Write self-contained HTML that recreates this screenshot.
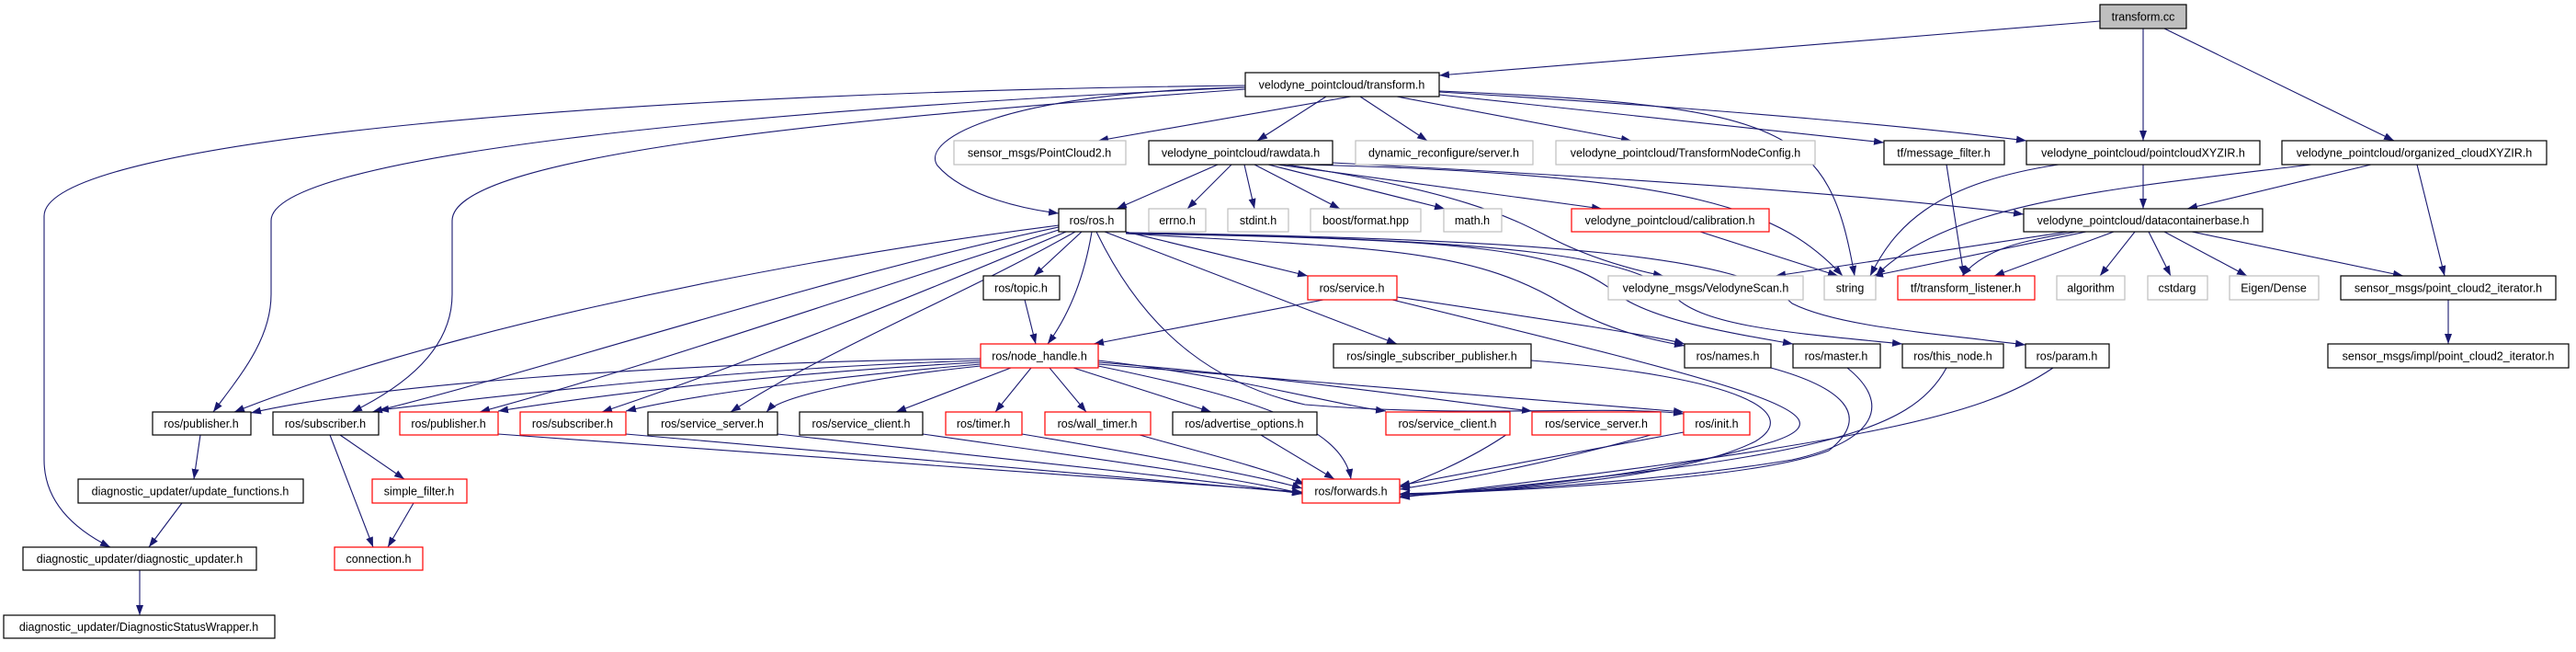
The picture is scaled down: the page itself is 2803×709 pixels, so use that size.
<!DOCTYPE html>
<html><head><meta charset="utf-8"><style>html,body{margin:0;padding:0;background:#fff}svg{display:block}</style></head><body>
<svg width="2803" height="709" viewBox="0 0 2803 709" xmlns="http://www.w3.org/2000/svg" font-family="Liberation Sans, sans-serif" font-size="12.5">
<defs><marker id="a" markerUnits="userSpaceOnUse" markerWidth="11" markerHeight="8" refX="11" refY="4" orient="auto"><path d="M0,0 L11,4 L0,8 z" fill="#191970"/></marker></defs>
<g fill="none" stroke="#191970" stroke-width="1.1" marker-end="url(#a)">
<path d="M2285,23 L1566,82"/><path d="M2332,31 L2332,153"/><path d="M2355,31 L2605,153"/>
<path d="M1470,105 L1195,153"/><path d="M1443,105 L1368,153"/><path d="M1480,105 L1553,153"/><path d="M1520,105 L1775,153"/>
<path d="M1566,103 L2050,155"/><path d="M1566,100 C1900,120 2100,140 2205,153"/>
<path d="M1566,99 C1950,115 1990,140 2018,300"/>
<path d="M1355,95 C1100,100 1000,150 1020,180 C1050,215 1120,228 1152,232"/>
<path d="M1355,93 C700,100 48,150 48,235 L48,500 C48,545 80,575 120,595"/>
<path d="M1355,95 C800,120 295,170 295,240 L295,320 C295,370 260,410 232,448"/>
<path d="M1355,97 C900,130 492,170 492,240 L492,320 C492,380 440,420 383,448"/>
<path d="M1325,179 L1215,227"/><path d="M1340,179 L1292,227"/><path d="M1354,179 L1365,227"/><path d="M1365,179 L1458,227"/><path d="M1380,179 L1572,227"/><path d="M1390,179 L1743,227"/>
<path d="M1400,179 C1600,210 1650,240 1690,260 C1720,275 1760,290 1810,300"/>
<path d="M1420,179 C1850,190 1940,230 2005,300"/>
<path d="M1450,177 C1900,200 2100,220 2202,233"/>
<path d="M2332,179 L2332,227"/><path d="M2240,179 C2100,200 2060,250 2035,300"/>
<path d="M2580,179 L2380,227"/><path d="M2515,179 C2300,205 2120,220 2041,300"/><path d="M2630,179 L2660,300"/>
<path d="M2250,252 L1932,300"/><path d="M2270,252 L2038,300"/><path d="M2300,252 L2170,300"/><path d="M2260,252 C2200,262 2160,270 2135,300"/>
<path d="M2118,179 L2137,300"/><path d="M2323,252 L2285,300"/><path d="M2338,252 L2362,300"/><path d="M2355,252 L2445,300"/><path d="M2385,252 L2615,300"/>
<path d="M1850,252 L2000,300"/><path d="M2664,326 L2664,374"/>
<path d="M1177,252 L1125,300"/><path d="M1188,252 C1180,300 1165,340 1140,374"/>
<path d="M1225,252 C1300,270 1380,290 1423,300"/><path d="M1202,252 L1520,374"/>
<path d="M1225,254 C1500,270 1600,270 1700,330 C1750,360 1800,370 1833,376"/>
<path d="M1225,254 C1600,260 1700,270 1760,320 C1800,350 1900,365 1951,374"/>
<path d="M1225,253 C1650,260 1780,280 1820,320 C1850,355 1950,362 2070,374"/>
<path d="M1225,253 C1700,260 1900,280 1950,330 C2000,355 2100,362 2204,375"/>
<path d="M1193,252 C1250,370 1330,420 1420,440 C1600,455 1750,440 1832,450"/>
<path d="M1152,245 C800,290 450,370 255,448"/><path d="M1152,247 C900,300 600,400 405,448"/><path d="M1152,250 C900,330 700,400 522,448"/><path d="M1160,252 C1000,320 800,400 655,448"/><path d="M1170,252 C1050,320 900,380 795,448"/>
<path d="M1440,326 L1190,374"/><path d="M1520,323 C1700,350 1800,365 1833,374"/>
<path d="M1515,326 C1900,420 2020,450 1930,480 C1800,520 1600,535 1523,540"/>
<path d="M1115,326 L1127,374"/>
<path d="M1666,392 C1900,410 1960,450 1910,480 C1820,525 1600,535 1523,537"/>
<path d="M1927,400 C2000,420 2040,450 1990,490 C1900,525 1600,535 1523,538"/>
<path d="M2010,400 C2060,440 2040,480 1950,500 C1800,525 1600,535 1523,538"/>
<path d="M2118,400 C2080,470 1980,500 1523,540"/><path d="M2234,400 C2160,450 2050,480 1523,541"/>
<path d="M1832,470 L1523,528"/>
<path d="M1067,390 C700,395 400,420 273,449"/><path d="M1067,392 C800,400 550,430 412,446"/><path d="M1067,394 C850,405 650,430 542,447"/><path d="M1067,396 C900,410 750,430 681,447"/><path d="M1067,398 C950,410 850,430 834,448"/>
<path d="M1100,400 L975,448"/><path d="M1122,400 L1083,448"/><path d="M1142,400 L1182,448"/><path d="M1168,400 L1318,448"/>
<path d="M1195,392 C1350,410 1450,440 1508,447"/><path d="M1195,394 C1400,410 1600,440 1667,447"/><path d="M1195,396 C1500,420 1750,440 1832,448"/>
<path d="M1195,398 C1350,430 1460,460 1470,521"/>
<path d="M542,472 C900,500 1200,520 1417,535"/><path d="M681,472 C1000,500 1250,520 1417,536"/><path d="M846,472 C1100,500 1300,520 1417,537"/><path d="M1004,472 C1200,500 1350,520 1417,537"/><path d="M1112,472 C1250,495 1380,520 1417,531"/><path d="M1240,473 C1300,490 1380,510 1420,527"/><path d="M1372,473 L1452,521"/>
<path d="M1643,470 C1600,500 1550,520 1523,530"/><path d="M1807,470 C1700,500 1600,520 1523,532"/>
<path d="M218,473 L211,521"/><path d="M198,547 L162,595"/><path d="M152,620 L152,669"/>
<path d="M370,473 L440,521"/><path d="M359,473 L406,595"/><path d="M450,547 L422,595"/>
</g>
<g stroke-width="1.2" fill="#fff">
<rect x="2285" y="5" width="94" height="26" fill="#bfbfbf" stroke="#000"/>
<rect x="1355" y="79" width="211" height="26" stroke="#000"/>
<rect x="2205" y="153" width="254" height="26" stroke="#000"/>
<rect x="2483" y="153" width="288" height="26" stroke="#000"/>
<rect x="1038" y="153" width="187" height="26" stroke="#bfbfbf"/>
<rect x="1250" y="153" width="200" height="26" stroke="#000"/>
<rect x="1475" y="153" width="193" height="26" stroke="#bfbfbf"/>
<rect x="1693" y="153" width="282" height="26" stroke="#bfbfbf"/>
<rect x="2050" y="153" width="131" height="26" stroke="#000"/>
<rect x="1152" y="227" width="73" height="25" stroke="#000"/>
<rect x="1250" y="227" width="62" height="25" stroke="#bfbfbf"/>
<rect x="1336" y="227" width="66" height="25" stroke="#bfbfbf"/>
<rect x="1426" y="227" width="120" height="25" stroke="#bfbfbf"/>
<rect x="1571" y="227" width="63" height="25" stroke="#bfbfbf"/>
<rect x="1710" y="227" width="215" height="25" stroke="red"/>
<rect x="2202" y="227" width="260" height="25" stroke="#000"/>
<rect x="1070" y="300" width="83" height="26" stroke="#000"/>
<rect x="1423" y="300" width="97" height="26" stroke="red"/>
<rect x="1750" y="300" width="212" height="26" stroke="#bfbfbf"/>
<rect x="1985" y="300" width="56" height="26" stroke="#bfbfbf"/>
<rect x="2065" y="300" width="149" height="26" stroke="red"/>
<rect x="2238" y="300" width="74" height="26" stroke="#bfbfbf"/>
<rect x="2337" y="300" width="65" height="26" stroke="#bfbfbf"/>
<rect x="2426" y="300" width="97" height="26" stroke="#bfbfbf"/>
<rect x="2547" y="300" width="234" height="26" stroke="#000"/>
<rect x="1067" y="374" width="128" height="26" stroke="red"/>
<rect x="1451" y="374" width="215" height="26" stroke="#000"/>
<rect x="1833" y="374" width="94" height="26" stroke="#000"/>
<rect x="1951" y="374" width="95" height="26" stroke="#000"/>
<rect x="2070" y="374" width="110" height="26" stroke="#000"/>
<rect x="2204" y="374" width="91" height="26" stroke="#000"/>
<rect x="2533" y="374" width="262" height="26" stroke="#000"/>
<rect x="166" y="448" width="107" height="25" stroke="#000"/>
<rect x="297" y="448" width="115" height="25" stroke="#000"/>
<rect x="435" y="448" width="107" height="25" stroke="red"/>
<rect x="566" y="448" width="115" height="25" stroke="red"/>
<rect x="705" y="448" width="141" height="25" stroke="#000"/>
<rect x="870" y="448" width="134" height="25" stroke="#000"/>
<rect x="1029" y="448" width="83" height="25" stroke="red"/>
<rect x="1137" y="448" width="115" height="25" stroke="red"/>
<rect x="1276" y="448" width="157" height="25" stroke="#000"/>
<rect x="1508" y="448" width="135" height="25" stroke="red"/>
<rect x="1667" y="448" width="140" height="25" stroke="red"/>
<rect x="1832" y="448" width="72" height="25" stroke="red"/>
<rect x="85" y="521" width="245" height="26" stroke="#000"/>
<rect x="405" y="521" width="103" height="26" stroke="red"/>
<rect x="1417" y="521" width="106" height="26" stroke="red"/>
<rect x="25" y="595" width="254" height="25" stroke="#000"/>
<rect x="364" y="595" width="96" height="25" stroke="red"/>
<rect x="4" y="669" width="295" height="25" stroke="#000"/>
</g>
<g fill="#000" text-anchor="middle" lengthAdjust="spacingAndGlyphs">
<text x="2332" y="22.5">transform.cc</text>
<text x="1460" y="96.5">velodyne_pointcloud/transform.h</text>
<text x="2332" y="170.5">velodyne_pointcloud/pointcloudXYZIR.h</text>
<text x="2627" y="170.5">velodyne_pointcloud/organized_cloudXYZIR.h</text>
<text x="1131" y="170.5">sensor_msgs/PointCloud2.h</text>
<text x="1350" y="170.5">velodyne_pointcloud/rawdata.h</text>
<text x="1571" y="170.5">dynamic_reconfigure/server.h</text>
<text x="1834" y="170.5">velodyne_pointcloud/TransformNodeConfig.h</text>
<text x="2115" y="170.5">tf/message_filter.h</text>
<text x="1188" y="244">ros/ros.h</text>
<text x="1281" y="244">errno.h</text>
<text x="1369" y="244">stdint.h</text>
<text x="1486" y="244">boost/format.hpp</text>
<text x="1602" y="244">math.h</text>
<text x="1817" y="244">velodyne_pointcloud/calibration.h</text>
<text x="2332" y="244">velodyne_pointcloud/datacontainerbase.h</text>
<text x="1111" y="317.5">ros/topic.h</text>
<text x="1471" y="317.5">ros/service.h</text>
<text x="1856" y="317.5">velodyne_msgs/VelodyneScan.h</text>
<text x="2013" y="317.5">string</text>
<text x="2139" y="317.5">tf/transform_listener.h</text>
<text x="2275" y="317.5">algorithm</text>
<text x="2369" y="317.5">cstdarg</text>
<text x="2474" y="317.5">Eigen/Dense</text>
<text x="2664" y="317.5">sensor_msgs/point_cloud2_iterator.h</text>
<text x="1131" y="391.5">ros/node_handle.h</text>
<text x="1558" y="391.5">ros/single_subscriber_publisher.h</text>
<text x="1880" y="391.5">ros/names.h</text>
<text x="1998" y="391.5">ros/master.h</text>
<text x="2125" y="391.5">ros/this_node.h</text>
<text x="2249" y="391.5">ros/param.h</text>
<text x="2664" y="391.5">sensor_msgs/impl/point_cloud2_iterator.h</text>
<text x="219" y="465">ros/publisher.h</text>
<text x="354" y="465">ros/subscriber.h</text>
<text x="488" y="465">ros/publisher.h</text>
<text x="623" y="465">ros/subscriber.h</text>
<text x="775" y="465">ros/service_server.h</text>
<text x="937" y="465">ros/service_client.h</text>
<text x="1070" y="465">ros/timer.h</text>
<text x="1194" y="465">ros/wall_timer.h</text>
<text x="1354" y="465">ros/advertise_options.h</text>
<text x="1575" y="465">ros/service_client.h</text>
<text x="1737" y="465">ros/service_server.h</text>
<text x="1868" y="465">ros/init.h</text>
<text x="207" y="538.5">diagnostic_updater/update_functions.h</text>
<text x="456" y="538.5">simple_filter.h</text>
<text x="1470" y="538.5">ros/forwards.h</text>
<text x="152" y="612">diagnostic_updater/diagnostic_updater.h</text>
<text x="412" y="612">connection.h</text>
<text x="151" y="686">diagnostic_updater/DiagnosticStatusWrapper.h</text>
</g>
</svg>
</body></html>
